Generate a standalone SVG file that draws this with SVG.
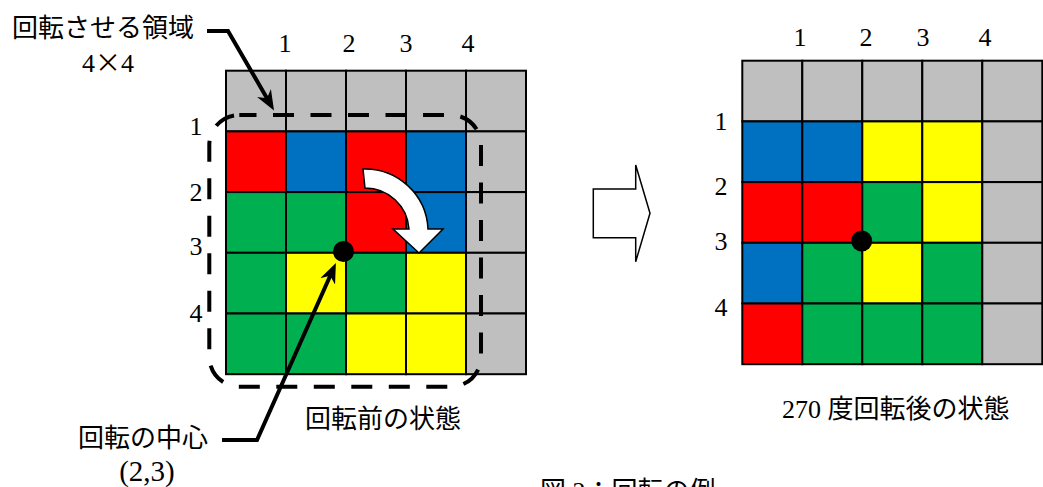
<svg xmlns="http://www.w3.org/2000/svg" width="1043" height="487" viewBox="0 0 1043 487">
<style>
text{font-family:"Liberation Serif","Noto Sans CJK JP",serif;font-size:26px;fill:#000}
.m{text-anchor:middle}
.cjk{font-family:"Noto Sans CJK JP",sans-serif}
.c rect{stroke:#000;stroke-width:2}
.g{fill:#BFBFBF}.r{fill:#FF0000}.b{fill:#0070C0}.n{fill:#00B050}.y{fill:#FFFF00}
.lead{fill:none;stroke:#000;stroke-width:4;stroke-linejoin:miter}
</style>
<defs>
<marker id="ah" markerUnits="userSpaceOnUse" viewBox="0 0 20 16" markerWidth="20" markerHeight="16" refX="8" refY="8" orient="auto">
<path d="M0,0 L20,8 L0,16 L6,8 Z" fill="#000"/>
</marker>
</defs>

<g id="grid-before" class="c">
<rect class="g" x="226" y="70.7" width="60" height="60.7"/><rect class="g" x="286" y="70.7" width="60" height="60.7"/><rect class="g" x="346" y="70.7" width="60" height="60.7"/><rect class="g" x="406" y="70.7" width="60" height="60.7"/><rect class="g" x="466" y="70.7" width="60" height="60.7"/>
<rect class="r" x="226" y="131.4" width="60" height="60.7"/><rect class="b" x="286" y="131.4" width="60" height="60.7"/><rect class="r" x="346" y="131.4" width="60" height="60.7"/><rect class="b" x="406" y="131.4" width="60" height="60.7"/><rect class="g" x="466" y="131.4" width="60" height="60.7"/>
<rect class="n" x="226" y="192.1" width="60" height="60.7"/><rect class="n" x="286" y="192.1" width="60" height="60.7"/><rect class="r" x="346" y="192.1" width="60" height="60.7"/><rect class="b" x="406" y="192.1" width="60" height="60.7"/><rect class="g" x="466" y="192.1" width="60" height="60.7"/>
<rect class="n" x="226" y="252.8" width="60" height="60.7"/><rect class="y" x="286" y="252.8" width="60" height="60.7"/><rect class="n" x="346" y="252.8" width="60" height="60.7"/><rect class="y" x="406" y="252.8" width="60" height="60.7"/><rect class="g" x="466" y="252.8" width="60" height="60.7"/>
<rect class="n" x="226" y="313.5" width="60" height="60.7"/><rect class="n" x="286" y="313.5" width="60" height="60.7"/><rect class="y" x="346" y="313.5" width="60" height="60.7"/><rect class="y" x="406" y="313.5" width="60" height="60.7"/><rect class="g" x="466" y="313.5" width="60" height="60.7"/>
</g>

<g id="grid-after" class="c">
<rect class="g" x="742.3" y="60.7" width="60" height="60.7"/><rect class="g" x="802.3" y="60.7" width="60" height="60.7"/><rect class="g" x="862.3" y="60.7" width="60" height="60.7"/><rect class="g" x="922.3" y="60.7" width="60" height="60.7"/><rect class="g" x="982.3" y="60.7" width="60" height="60.7"/>
<rect class="b" x="742.3" y="121.4" width="60" height="60.7"/><rect class="b" x="802.3" y="121.4" width="60" height="60.7"/><rect class="y" x="862.3" y="121.4" width="60" height="60.7"/><rect class="y" x="922.3" y="121.4" width="60" height="60.7"/><rect class="g" x="982.3" y="121.4" width="60" height="60.7"/>
<rect class="r" x="742.3" y="182.1" width="60" height="60.7"/><rect class="r" x="802.3" y="182.1" width="60" height="60.7"/><rect class="n" x="862.3" y="182.1" width="60" height="60.7"/><rect class="y" x="922.3" y="182.1" width="60" height="60.7"/><rect class="g" x="982.3" y="182.1" width="60" height="60.7"/>
<rect class="b" x="742.3" y="242.8" width="60" height="60.7"/><rect class="n" x="802.3" y="242.8" width="60" height="60.7"/><rect class="y" x="862.3" y="242.8" width="60" height="60.7"/><rect class="n" x="922.3" y="242.8" width="60" height="60.7"/><rect class="g" x="982.3" y="242.8" width="60" height="60.7"/>
<rect class="r" x="742.3" y="303.5" width="60" height="60.7"/><rect class="n" x="802.3" y="303.5" width="60" height="60.7"/><rect class="n" x="862.3" y="303.5" width="60" height="60.7"/><rect class="n" x="922.3" y="303.5" width="60" height="60.7"/><rect class="g" x="982.3" y="303.5" width="60" height="60.7"/>
</g>

<g id="region">
<rect x="209.3" y="115" width="271.7" height="271.7" rx="30" fill="none" stroke="#000" stroke-width="4" stroke-dasharray="21 16.5" stroke-dashoffset="3.8"/>
</g>

<g id="rotate-arrow">
<path d="M363,169 A63,63 0 0 1 428,229 L443,229 L419,253 L393,229 L409,229 A44,44 0 0 0 365,188 Z" fill="#fff" stroke="#000" stroke-width="1.5" stroke-linejoin="miter"/>
</g>

<g id="centers">
<circle cx="343.5" cy="251.5" r="10.5" fill="#000"/>
<circle cx="861.7" cy="241" r="10.5" fill="#000"/>
</g>

<g id="block-arrow">
<polygon points="593.3,189 635.7,189 635.7,165 650,213.3 635.7,261.7 635.7,237.7 593.3,237.7" fill="#fff" stroke="#000" stroke-width="1.5"/>
</g>

<g id="connectors">
<polyline class="lead" points="207,31 228,31 268,100" marker-end="url(#ah)"/>
<polyline class="lead" points="222,440 257,440 331,274" marker-end="url(#ah)"/>
</g>

<g id="labels-left">
<text x="12" y="37">回転させる領域</text>
<text class="m" x="108" y="72">4<tspan class="cjk">×</tspan>4</text>
<text class="m" x="285" y="52">1</text><text class="m" x="349" y="52">2</text><text class="m" x="406" y="52">3</text><text class="m" x="468" y="52">4</text>
<text class="m" x="196" y="135">1</text><text class="m" x="196" y="201">2</text><text class="m" x="196" y="255">3</text><text class="m" x="196" y="322">4</text>
<text x="78" y="447">回転の中心</text>
<text class="m" x="147" y="481" style="font-size:29px">(2,3)</text>
<text x="305" y="428">回転前の状態</text>
</g>

<g id="labels-right">
<text class="m" x="800" y="46">1</text><text class="m" x="866" y="46">2</text><text class="m" x="923" y="46">3</text><text class="m" x="985" y="46">4</text>
<text class="m" x="721" y="130">1</text><text class="m" x="721" y="195">2</text><text class="m" x="721" y="250">3</text><text class="m" x="721" y="316">4</text>
<text x="782" y="418">270 度回転後の状態</text>
</g>

<g id="caption">
<text x="540" y="500">図 2：回転の例</text>
</g>
</svg>
